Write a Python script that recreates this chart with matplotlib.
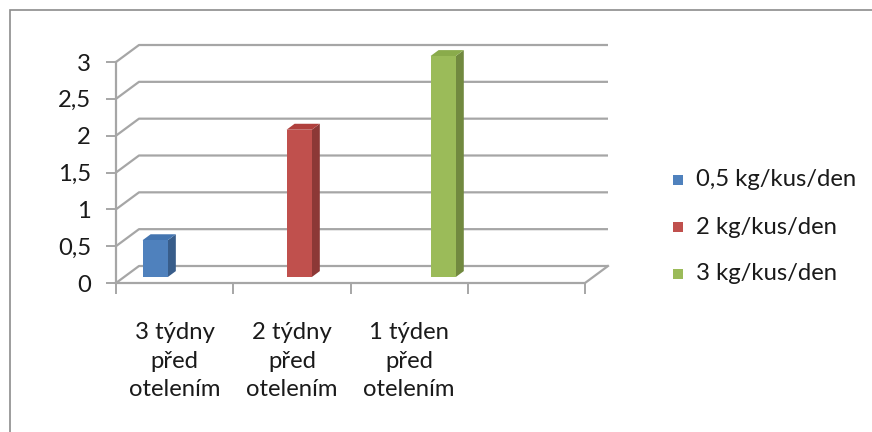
import matplotlib
matplotlib.use("Agg")
import matplotlib.pyplot as plt
from matplotlib.patches import Polygon, Rectangle
from matplotlib.transforms import ScaledTranslation

plt.rcParams['font.family'] = ['Lato', 'DejaVu Sans']

# data
categories = ["3 týdny\npřed\notelením", "2 týdny\npřed\notelením", "1 týden\npřed\notelením", ""]
series_names = ["0,5 kg/kus/den", "2 kg/kus/den", "3 kg/kus/den"]
series_values = [
    [0.5, 0, 0, 0],
    [0, 2, 0, 0],
    [0, 0, 3, 0],
]
yticks = [0, 0.5, 1, 1.5, 2, 2.5, 3]
ytick_labels = ["0", "0,5", "1", "1,5", "2", "2,5", "3"]

front_cols = ["#4f81bd", "#c0504d", "#9bbb59"]
side_cols = ["#385d8a", "#8c3836", "#71893f"]
top_cols = ["#4475b0", "#b0403d", "#8aab4b"]

FS = 17.2
txt_col = "#1a1a1a"

W, H = 872, 432
fig = plt.figure(figsize=(W / 100, H / 100), dpi=100)

# front plane in pixels
px_left, px_right, px_top, px_bottom = 116, 585, 62, 283
ax = fig.add_axes([px_left / W, (H - px_bottom) / H,
                   (px_right - px_left) / W, (px_bottom - px_top) / H])
nslots = len(categories)
ax.set_xlim(0, nslots)
ax.set_ylim(0, 3)

# depth offset (back wall) in data units
DX = 23 / ((px_right - px_left) / nslots)
DY = 17 / ((px_bottom - px_top) / 3)

grid_col = "#a6a6a6"
for y in yticks:
    ax.plot([0, DX, nslots + DX], [y, y + DY, y + DY], color=grid_col, lw=1.6,
            clip_on=False, zorder=1, solid_capstyle='butt')
# floor front edge and right edge
ax.plot([0, nslots, nslots + DX], [0, 0, DY], color=grid_col, lw=1.6, clip_on=False, zorder=1)
# y axis line
ax.plot([0, 0], [0, 3], color=grid_col, lw=1.6, clip_on=False, zorder=1)

# bars
gap = 0.158
slot_w = 0.228
face_w = 0.215
f0, f1 = 0.35, 0.70
for j, vals in enumerate(series_values):
    for i, v in enumerate(vals):
        if not v:
            continue
        x0 = i + gap + j * slot_w + f0 * DX
        x1 = x0 + face_w
        b0 = f0 * DY
        ddx, ddy = (f1 - f0) * DX, (f1 - f0) * DY
        front = [(x0, b0), (x1, b0), (x1, v + b0), (x0, v + b0)]
        side = [(x1, b0), (x1 + ddx, b0 + ddy), (x1 + ddx, v + b0 + ddy), (x1, v + b0)]
        top = [(x0, v + b0), (x1, v + b0), (x1 + ddx, v + b0 + ddy), (x0 + ddx, v + b0 + ddy)]
        ax.add_patch(Polygon(side, closed=True, fc=side_cols[j], ec='none', clip_on=False, zorder=3))
        ax.add_patch(Polygon(top, closed=True, fc=top_cols[j], ec='none', clip_on=False, zorder=3))
        ax.add_patch(Polygon(front, closed=True, fc=front_cols[j], ec='none', clip_on=False, zorder=4))

for s in ax.spines.values():
    s.set_visible(False)
ax.set_yticks(yticks)
ax.set_yticklabels(ytick_labels, fontsize=FS, color=txt_col)
ax.tick_params(axis='y', length=7, width=1.4, color=grid_col, pad=11)
ax.set_xticks(range(nslots + 1))
ax.set_xticklabels([])
ax.tick_params(axis='x', length=8, width=1.4, color=grid_col)

# category labels, centred below each slot
shift = ScaledTranslation(0, -78 / 100, fig.dpi_scale_trans)
for i, c in enumerate(categories):
    ax.text(i + 0.5, 0, c, transform=ax.transData + shift, ha='center', va='center',
            fontsize=FS, color=txt_col, linespacing=1.42)

# legend
for j, name in enumerate(series_names):
    yc = H - (180 + j * 47)
    fig.patches.append(Rectangle((673 / W, (yc - 5) / H), 10 / W, 10 / H,
                                 transform=fig.transFigure, fc=front_cols[j], ec='none'))
    fig.text(696 / W, yc / H, name, ha='left', va='center', fontsize=FS, color=txt_col)

# chart border
fig.patches.append(Rectangle((10 / W, -0.1), 1.2, (H - 10) / H + 0.1, transform=fig.transFigure,
                             fill=False, ec="#8c8c8c", lw=1.2))

fig.savefig("out.png", dpi=100)
